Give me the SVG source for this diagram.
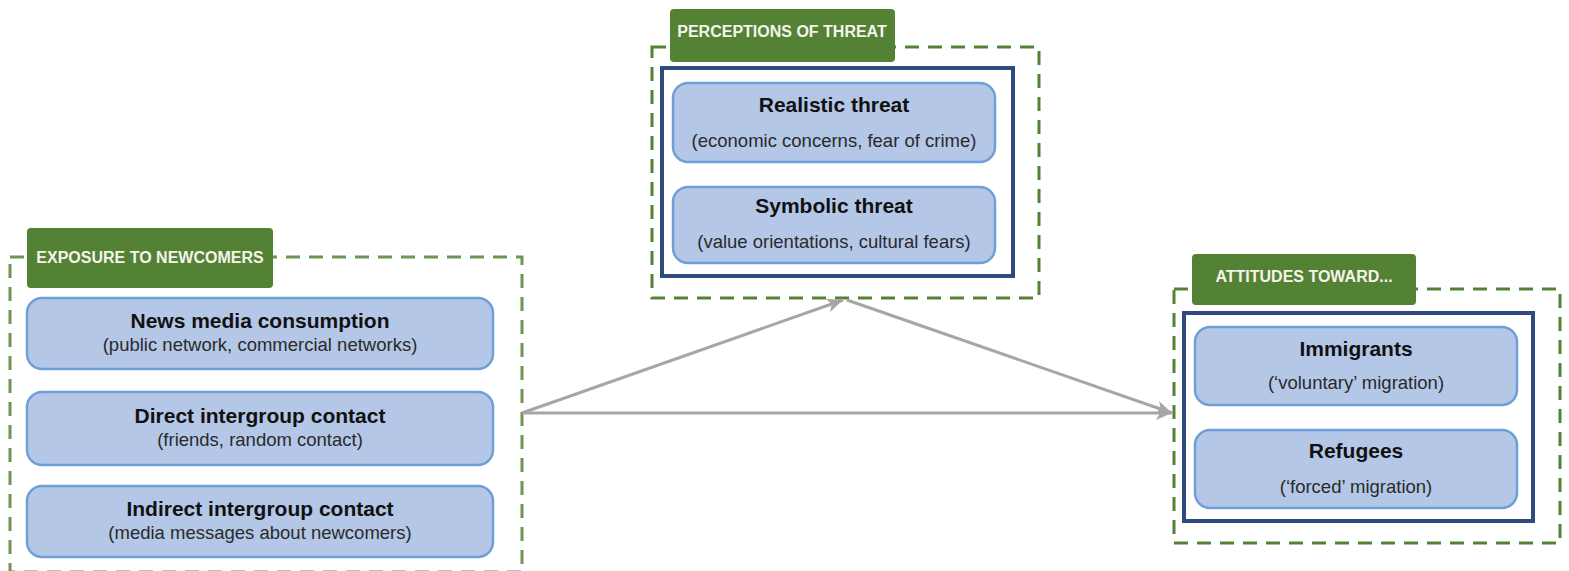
<svg xmlns="http://www.w3.org/2000/svg" width="1569" height="571" viewBox="0 0 1569 571">
<style>
.dash{fill:none;stroke:#548235;stroke-width:3;stroke-dasharray:14 9}
.lab{fill:#548235}
.labt{font-family:"Liberation Sans",Arial,sans-serif;font-weight:bold;font-size:16px;fill:#F4F4EC;text-anchor:middle}
.navy{fill:#FFFFFF;stroke:#2F4A7F;stroke-width:4}
.node{fill:#B4C7E7;stroke:#6E9FD6;stroke-width:2.5}
.t{font-family:"Liberation Sans",Arial,sans-serif;font-weight:bold;font-size:21px;fill:#111111;text-anchor:middle}
.s{font-family:"Liberation Sans",Arial,sans-serif;font-size:18.5px;fill:#2a2a2a;text-anchor:middle}
.arr{fill:none;stroke:#A6A6A6;stroke-width:3}
</style>
<defs>
<marker id="ah" markerUnits="userSpaceOnUse" markerWidth="18" markerHeight="14" refX="16" refY="7" orient="auto">
<path d="M0,0 L16,7 L0,14 L4,7 Z" fill="#A6A6A6"/>
</marker>
</defs>
<rect width="1569" height="571" fill="#FFFFFF"/>

<g id="exposure">
<rect class="dash" x="10" y="257" width="512" height="315" stroke-opacity="0.85"/>
<rect class="lab" x="27" y="228" width="246" height="60" rx="4"/>
<text class="labt" x="150" y="263">EXPOSURE TO NEWCOMERS</text>
<g id="news">
<rect class="node" x="27" y="298" width="466" height="71" rx="15"/>
<text class="t" x="260" y="328">News media consumption</text>
<text class="s" x="260" y="351">(public network, commercial networks)</text>
</g>
<g id="direct">
<rect class="node" x="27" y="392" width="466" height="73" rx="15"/>
<text class="t" x="260" y="423">Direct intergroup contact</text>
<text class="s" x="260" y="446">(friends, random contact)</text>
</g>
<g id="indirect">
<rect class="node" x="27" y="486" width="466" height="71" rx="15"/>
<text class="t" x="260" y="516">Indirect intergroup contact</text>
<text class="s" x="260" y="539">(media messages about newcomers)</text>
</g>
</g>

<g id="threat">
<rect class="dash" x="652" y="47" width="387" height="251"/>
<rect class="lab" x="670" y="9" width="225" height="53" rx="4"/>
<text class="labt" x="782" y="37">PERCEPTIONS OF THREAT</text>
<rect class="navy" x="662" y="68" width="351" height="208"/>
<g id="realistic">
<rect class="node" x="673" y="83" width="322" height="79" rx="15"/>
<text class="t" x="834" y="112">Realistic threat</text>
<text class="s" x="834" y="147">(economic concerns, fear of crime)</text>
</g>
<g id="symbolic">
<rect class="node" x="673" y="187" width="322" height="76" rx="15"/>
<text class="t" x="834" y="213">Symbolic threat</text>
<text class="s" x="834" y="248">(value orientations, cultural fears)</text>
</g>
</g>

<g id="attitudes">
<rect class="dash" x="1174" y="289" width="386" height="254"/>
<rect class="lab" x="1192" y="254" width="224" height="51" rx="4"/>
<text class="labt" x="1304" y="282">ATTITUDES TOWARD...</text>
<rect class="navy" x="1184" y="313" width="349" height="208"/>
<g id="immigrants">
<rect class="node" x="1195" y="327" width="322" height="78" rx="15"/>
<text class="t" x="1356" y="356">Immigrants</text>
<text class="s" x="1356" y="389">(‘voluntary’ migration)</text>
</g>
<g id="refugees">
<rect class="node" x="1195" y="430" width="322" height="78" rx="15"/>
<text class="t" x="1356" y="458">Refugees</text>
<text class="s" x="1356" y="493">(‘forced’ migration)</text>
</g>
</g>

<g id="connectors">
<line class="arr" x1="522" y1="413" x2="843" y2="300" marker-end="url(#ah)"/>
<line class="arr" x1="847" y1="300" x2="1172" y2="413" marker-end="url(#ah)"/>
<line class="arr" x1="522" y1="413" x2="1172" y2="413" marker-end="url(#ah)"/>
</g>
</svg>
